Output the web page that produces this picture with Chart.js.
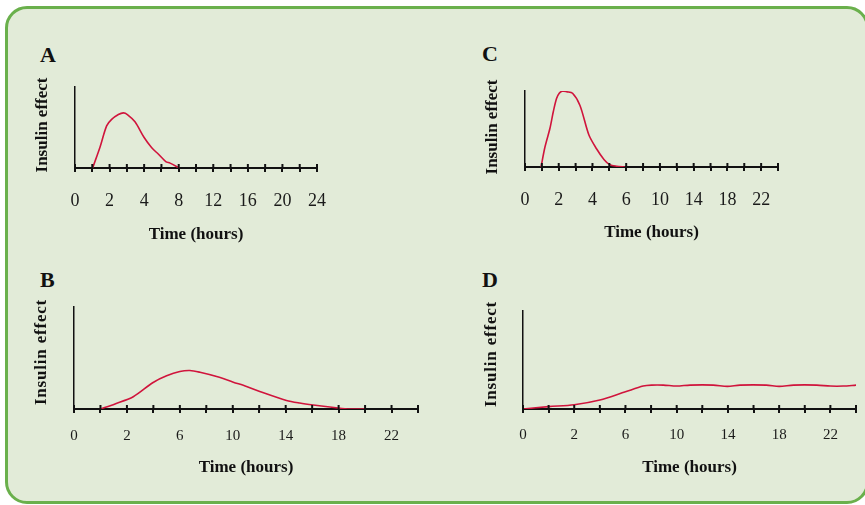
<!DOCTYPE html>
<html>
<head>
<meta charset="utf-8">
<script src="https://cdn.jsdelivr.net/npm/chart.js@4/dist/chart.umd.min.js"></script>
<style>
  html, body { margin: 0; padding: 0; background: #ffffff; }
  body { position: relative; width: 865px; height: 505px; overflow: hidden; }
  .frame {
    position: absolute; left: 5px; top: 6px; width: 864px; height: 498px;
    box-sizing: border-box; border: 3px solid #6ab04c; border-radius: 22px;
    background: #e2ebd8;
  }
  canvas { position: absolute; }
  .tag {
    position: absolute; font: bold 22px "Liberation Serif", "Times New Roman", serif;
    line-height: 22px; color: #111;
  }
</style>
</head>
<body>
<div class="frame"></div>
<div class="tag" style="left:40px;top:44px">A</div>
<div class="tag" style="left:482px;top:43px">C</div>
<div class="tag" style="left:40px;top:269px">B</div>
<div class="tag" style="left:482px;top:269px">D</div>
<canvas id="chartA"></canvas>
<canvas id="chartC"></canvas>
<canvas id="chartB"></canvas>
<canvas id="chartD"></canvas>
<script>
"use strict";

// x values are tick positions along each axis (the printed labels are uneven)
const ticksA = ["0", "", "2", "", "4", "", "8", "", "12", "", "16", "", "20", "", "24"];
const timeA = [1.02, 1.45, 1.83, 2.12, 2.51, 2.8, 3.03, 3.47, 3.99, 4.44, 4.83, 5.25, 5.5, 6.04];
const effectA = [0, 0.26, 0.52, 0.6, 0.66, 0.68, 0.66, 0.57, 0.38, 0.25, 0.17, 0.08, 0.06, 0];

const ticksC = ["0", "", "2", "", "4", "", "6", "", "10", "", "14", "", "18", "", "22", ""];
const timeC = [0.95, 1.18, 1.48, 1.68, 1.87, 2.03, 2.23, 2.47, 2.82, 3.26, 3.79, 4.24, 4.68, 5.03, 5.43, 5.92];
const effectC = [0, 0.26, 0.51, 0.73, 0.9, 0.97, 1.0, 0.99, 0.97, 0.81, 0.42, 0.24, 0.1, 0.03, 0.01, 0];

const ticksB = ["0", "", "2", "", "6", "", "10", "", "14", "", "18", "", "22", ""];
const timeB = [0.98, 1.55, 2.24, 2.99, 3.5, 4.0, 4.38, 4.76, 5.39, 6.02, 6.52, 7.02, 8.03, 8.53, 9.04, 9.98, 10.42, 11.0];
const effectB = [0, 0.05, 0.12, 0.26, 0.325, 0.367, 0.377, 0.36, 0.318, 0.263, 0.221, 0.172, 0.084, 0.058, 0.039, 0.01, 0, 0];

const ticksD = ["0", "", "2", "", "6", "", "10", "", "14", "", "18", "", "22", ""];
const timeD = [0, 1, 2, 3, 4, 4.69, 5.02, 5.48, 6, 6.52, 7.43, 7.98, 8.47, 9.5, 10, 10.56, 11.47, 12, 12.5, 13];
const effectD = [0, 0.024, 0.044, 0.092, 0.176, 0.234, 0.244, 0.244, 0.234, 0.244, 0.244, 0.231, 0.244, 0.244, 0.231, 0.244, 0.244, 0.234, 0.234, 0.244];

const SERIF = '"Liberation Serif", "Times New Roman", serif';
const RED = "#d0143c";
const INK = "#111111";

// where each plot sits on the page
const panels = [
  { id: "chartA", labels: ticksA, time: timeA, effect: effectA, left: 75, right: 317, top: 87, bottom: 168, yTitleX: 43, yTitleMid: 125, spacing: 0, tickY: 201, titleY: 235, tickSize: 18 },
  { id: "chartC", labels: ticksC, time: timeC, effect: effectC, left: 525, right: 778, top: 91, bottom: 167, yTitleX: 493, yTitleMid: 127, spacing: 0, tickY: 200, titleY: 233, tickSize: 18 },
  { id: "chartB", labels: ticksB, time: timeB, effect: effectB, left: 74, right: 418, top: 307, bottom: 409, yTitleX: 42, yTitleMid: 352, spacing: 0.8, tickY: 436, titleY: 468, tickSize: 15 },
  { id: "chartD", labels: ticksD, time: timeD, effect: effectD, left: 523, right: 856, top: 311, bottom: 409, yTitleX: 492, yTitleMid: 354, spacing: 0.8, tickY: 435, titleY: 468, tickSize: 15 }
];

// tick marks cross the axis: chart.js draws the lower half, this adds the upper half
const tickCross = {
  id: "tickCross",
  afterDraw(chart) {
    const scale = chart.scales.x;
    const ctx = chart.ctx;
    const base = chart.chartArea.bottom;
    ctx.save();
    ctx.strokeStyle = INK;
    ctx.lineWidth = 2;
    scale.ticks.forEach((tick) => {
      const px = scale.getPixelForValue(tick.value);
      ctx.beginPath();
      ctx.moveTo(px, base - 4);
      ctx.lineTo(px, base);
      ctx.stroke();
    });
    ctx.restore();
  }
};

// rotated y title, drawn by hand so it is not squeezed to the plot height
const yTitle = {
  id: "yTitle",
  afterDraw(chart, args, opts) {
    const ctx = chart.ctx;
    ctx.save();
    ctx.translate(opts.x, opts.y);
    ctx.rotate(-Math.PI / 2);
    ctx.font = "bold 17px " + SERIF;
    ctx.letterSpacing = opts.spacing + "px";
    ctx.fillStyle = INK;
    ctx.textAlign = "center";
    ctx.textBaseline = "middle";
    ctx.fillText(opts.text, 0, 0);
    ctx.restore();
  }
};

panels.forEach(makePanel);

function makePanel(p) {
  const L = Math.floor(p.yTitleX - 14);
  const T = p.top - 30;
  const W = Math.ceil(p.right + 40 - L);
  const H = Math.ceil(p.titleY + 14 - T);
  const canvas = document.getElementById(p.id);
  canvas.width = W;
  canvas.height = H;
  canvas.style.left = L + "px";
  canvas.style.top = T + "px";

  const titleLine = 17 * 1.2;
  const scaleBottom = p.titleY + titleLine / 2;

  new Chart(canvas, {
    type: "line",
    data: {
      datasets: [{
        data: p.time.map((t, i) => ({ x: t, y: p.effect[i] })),
        borderColor: RED,
        borderWidth: 1.6,
        pointRadius: 0,
        tension: 0.3,
        fill: false
      }]
    },
    options: {
      responsive: false,
      animation: false,
      events: [],
      layout: {
        padding: { left: 0, top: p.top - T, right: L + W - p.right, bottom: T + H - scaleBottom }
      },
      plugins: {
        legend: { display: false },
        tooltip: { enabled: false },
        yTitle: { text: "Insulin effect", x: p.yTitleX - L, y: p.yTitleMid - T, spacing: p.spacing }
      },
      scales: {
        x: {
          type: "linear",
          min: 0,
          max: p.labels.length - 1,
          afterFit: (scale) => { scale.height = scaleBottom - p.bottom; },
          grid: { drawOnChartArea: false, drawTicks: true, tickLength: 4, color: INK, lineWidth: 2 },
          border: { color: INK, width: 2 },
          ticks: {
            stepSize: 1,
            maxTicksLimit: 40,
            autoSkip: false,
            maxRotation: 0,
            padding: p.tickY - p.bottom - 4 - (p.tickSize * 1.2) / 2,
            color: "#1a1a1a",
            font: { family: SERIF, size: p.tickSize },
            callback: (value) => p.labels[value] ?? ""
          },
          title: {
            display: true,
            text: "Time (hours)",
            color: INK,
            font: { family: SERIF, size: 17, weight: "bold" },
            padding: 0
          }
        },
        y: {
          min: 0,
          max: 1,
          afterFit: (scale) => { scale.width = p.left - L; },
          grid: { display: false },
          border: { color: INK, width: 1.5 },
          ticks: { display: false },
          title: { display: false }
        }
      }
    },
    plugins: [tickCross, yTitle]
  });
}
</script>
</body>
</html>
